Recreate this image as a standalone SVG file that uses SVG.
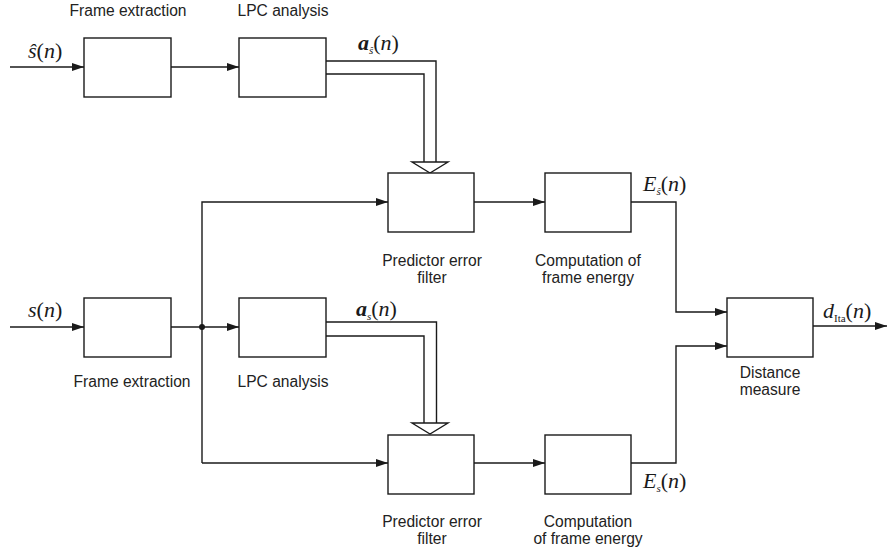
<svg xmlns="http://www.w3.org/2000/svg" width="887" height="554" viewBox="0 0 887 554">
  <style>
    .box { fill: #ffffff; stroke: #1a1a1a; stroke-width: 1.4; }
    .wire { fill: none; stroke: #1a1a1a; stroke-width: 1.4; }
    .fat { fill: none; stroke: #1a1a1a; stroke-width: 1.4; }
    .head { fill: #ffffff; stroke: #1a1a1a; stroke-width: 1.4; stroke-linejoin: miter; }
    .lbl { font-family: "Liberation Sans", Arial, sans-serif; font-size: 15.6px; fill: #222; text-anchor: middle; }
    .math { font-family: "Liberation Serif", "Times New Roman", serif; font-size: 22px; fill: #1a1a1a; }
    .sub { font-size: 11px; }
  </style>
  <defs>
    <marker id="arr" markerUnits="userSpaceOnUse" markerWidth="13" markerHeight="10" refX="12" refY="5" orient="auto">
      <path d="M0,1 L12,5 L0,9 Z" fill="#1a1a1a"/>
    </marker>
  </defs>

  <!-- connectors -->
  <g id="connectors">
    <line class="wire" x1="10" y1="67" x2="84" y2="67" marker-end="url(#arr)"/>
    <line class="wire" x1="171" y1="67" x2="239" y2="67" marker-end="url(#arr)"/>
    <line class="wire" x1="10" y1="327" x2="84" y2="327" marker-end="url(#arr)"/>
    <line class="wire" x1="171" y1="327" x2="239" y2="327" marker-end="url(#arr)"/>
    <circle cx="202" cy="327" r="3" fill="#1a1a1a"/>
    <polyline class="wire" points="202,463 202,202 388,202" marker-end="url(#arr)"/>
    <line class="wire" x1="202" y1="463" x2="388" y2="463" marker-end="url(#arr)"/>
    <line class="wire" x1="474" y1="202" x2="545" y2="202" marker-end="url(#arr)"/>
    <line class="wire" x1="474" y1="463" x2="545" y2="463" marker-end="url(#arr)"/>
    <polyline class="wire" points="631,202 676,202 676,312 727,312" marker-end="url(#arr)"/>
    <polyline class="wire" points="631,463 676,463 676,346 727,346" marker-end="url(#arr)"/>
    <line class="wire" x1="813" y1="326" x2="887" y2="326" marker-end="url(#arr)"/>

    <!-- wide coefficient arrows -->
    <polyline class="fat" points="326,61 436,61 436,162"/>
    <polyline class="fat" points="326,74 424,74 424,162"/>
    <polygon class="head" points="412,162 448,162 430,173"/>
    <polyline class="fat" points="326,322 436.5,322 436.5,423"/>
    <polyline class="fat" points="326,336 424,336 424,423"/>
    <polygon class="head" points="412,423 448,423 430,434"/>
  </g>

  <!-- nodes -->
  <g id="frame-extraction-1">
    <rect class="box" x="84" y="38" width="87" height="59"/>
    <text class="lbl" x="128" y="16">Frame extraction</text>
  </g>
  <g id="lpc-analysis-1">
    <rect class="box" x="239" y="38" width="87" height="59"/>
    <text class="lbl" x="283" y="16">LPC analysis</text>
  </g>
  <g id="predictor-filter-1">
    <rect class="box" x="388" y="173" width="86" height="59"/>
    <text class="lbl" x="432" y="266">Predictor error</text>
    <text class="lbl" x="432" y="283">filter</text>
  </g>
  <g id="frame-energy-1">
    <rect class="box" x="545" y="173" width="86" height="59"/>
    <text class="lbl" x="588" y="266">Computation of</text>
    <text class="lbl" x="588" y="283">frame energy</text>
  </g>
  <g id="frame-extraction-2">
    <rect class="box" x="84" y="298" width="87" height="59"/>
    <text class="lbl" x="132" y="387">Frame extraction</text>
  </g>
  <g id="lpc-analysis-2">
    <rect class="box" x="239" y="298" width="87" height="59"/>
    <text class="lbl" x="283" y="387">LPC analysis</text>
  </g>
  <g id="predictor-filter-2">
    <rect class="box" x="388" y="435" width="86" height="59"/>
    <text class="lbl" x="432" y="527">Predictor error</text>
    <text class="lbl" x="432" y="544">filter</text>
  </g>
  <g id="frame-energy-2">
    <rect class="box" x="545" y="435" width="86" height="59"/>
    <text class="lbl" x="588" y="527">Computation</text>
    <text class="lbl" x="588" y="544">of frame energy</text>
  </g>
  <g id="distance-measure">
    <rect class="box" x="727" y="298" width="86" height="59"/>
    <text class="lbl" x="770" y="378">Distance</text>
    <text class="lbl" x="770" y="395">measure</text>
  </g>

  <!-- signal labels -->
  <g id="signal-labels">
    <text class="math" x="28" y="58"><tspan font-style="italic">ŝ</tspan>(<tspan font-style="italic">n</tspan>)</text>
    <text class="math" x="358" y="50"><tspan font-style="italic" font-weight="bold">a</tspan><tspan class="sub" font-style="italic" dy="4">ŝ</tspan><tspan dy="-4">(</tspan><tspan font-style="italic">n</tspan>)</text>
    <text class="math" x="643" y="191"><tspan font-style="italic">E</tspan><tspan class="sub" font-style="italic" dy="4">ŝ</tspan><tspan dy="-4">(</tspan><tspan font-style="italic">n</tspan>)</text>
    <text class="math" x="28" y="317"><tspan font-style="italic">s</tspan>(<tspan font-style="italic">n</tspan>)</text>
    <text class="math" x="356" y="316"><tspan font-style="italic" font-weight="bold">a</tspan><tspan class="sub" font-style="italic" dy="4">s</tspan><tspan dy="-4">(</tspan><tspan font-style="italic">n</tspan>)</text>
    <text class="math" x="823" y="318"><tspan font-style="italic">d</tspan><tspan class="sub" dy="4">Ita</tspan><tspan dy="-4">(</tspan><tspan font-style="italic">n</tspan>)</text>
    <text class="math" x="643" y="488"><tspan font-style="italic">E</tspan><tspan class="sub" font-style="italic" dy="4">s</tspan><tspan dy="-4">(</tspan><tspan font-style="italic">n</tspan>)</text>
  </g>
</svg>
